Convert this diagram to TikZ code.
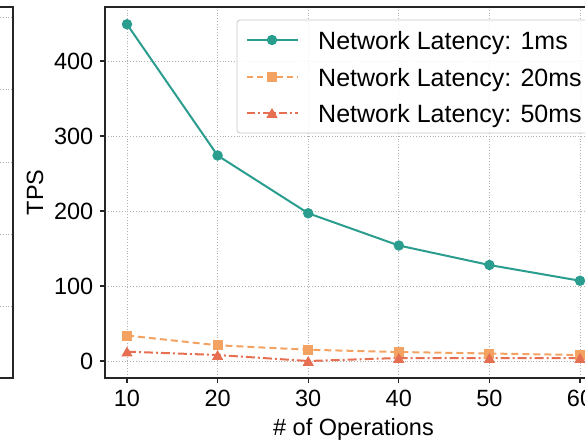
\documentclass[tikz,border=0pt]{standalone}
\usepackage{fontspec}
\setmainfont{Liberation Sans}
\usetikzlibrary{shapes.geometric}
\definecolor{cA}{HTML}{2A9D8F}
\definecolor{cB}{HTML}{F4A261}
\definecolor{cC}{HTML}{E76F51}
\definecolor{gridc}{HTML}{B0B0B0}
\definecolor{spine}{HTML}{262626}
\begin{document}
\begin{tikzpicture}[x=1pt,y=-1pt,
  gridline/.style={gridc,line width=0.8pt,dotted},
  spineline/.style={spine,line width=1.3pt},
  lab/.style={font=\fontsize{23.5}{28}\selectfont,inner sep=0pt},
  leglab/.style={font=\fontsize{25}{30}\selectfont,inner sep=0pt},
  serA/.style={cA,line width=2pt},
  serB/.style={cB,line width=2pt,dash pattern=on 7pt off 4pt},
  serC/.style={cC,line width=2pt,dash pattern=on 9pt off 3pt on 2pt off 3pt},
  mkA/.style={circle,fill=cA,minimum size=10.5pt,inner sep=0pt},
  mkB/.style={rectangle,fill=cB,minimum size=10pt,inner sep=0pt},
  mkC/.style={regular polygon,regular polygon sides=3,fill=cC,minimum size=13pt,inner sep=0pt}]
\useasboundingbox (0,0) rectangle (585,442);
\clip (0,0) rectangle (585,442);
% left partial plot
\foreach \yy in {17,89,162,234,306} \draw[gridline] (0,\yy) -- (13,\yy);
\draw[spineline] (0,7) -- (13,7) -- (13,378) -- (0,378);
% grid
\foreach \xx in {127,217.6,308.2,398.8,489.4,580} \draw[gridline] (\xx,7) -- (\xx,378);
\foreach \v in {0,100,200,300,400} \draw[gridline] (105,{361-0.75*\v}) -- (600,{361-0.75*\v});
% ticks and labels
\foreach \v in {0,100,200,300,400} {
  \draw[spineline] (100,{361-0.75*\v}) -- (105,{361-0.75*\v});
  \node[lab,anchor=base east] (yl\v) at (93.5,{369.4-0.75*\v}) {\v};
}
\foreach \i/\v in {0/10,1/20,2/30,3/40,4/50,5/60} {
  \draw[spineline] ({127+90.6*\i},378) -- ({127+90.6*\i},383);
  \node[lab,anchor=base] (xl\v) at ({127+90.6*\i},406.5) {\v};
}
\node[lab,rotate=90,anchor=base] (ylab) at (43,192.5) {TPS};
\node[lab,anchor=base] (xlab) at (353.5,435) {\# of Operations};
% series data
\foreach \i/\v [count=\k] in {0/449,1/274,2/197,3/154,4/128,5/107} \coordinate (a\k) at ({127+90.6*\i},{361-0.75*\v});
\foreach \i/\v [count=\k] in {0/34,1/21,2/15,3/12,4/10,5/8} \coordinate (b\k) at ({127+90.6*\i},{361-0.75*\v});
\foreach \i/\v [count=\k] in {0/12.5,1/8,2/0,3/4,4/4,5/4} \coordinate (c\k) at ({127+90.6*\i},{361-0.75*\v});
\draw[serB] (b1) -- (b2) -- (b3) -- (b4) -- (b5) -- (b6);
\draw[serC] (c1) -- (c2) -- (c3) -- (c4) -- (c5) -- (c6);
\draw[serA] (a1) -- (a2) -- (a3) -- (a4) -- (a5) -- (a6);
\foreach \k in {1,...,6} {
  \node[mkB] (mb\k) at (b\k) {};
  \node[mkC,yshift=-1.5pt] (mc\k) at (c\k) {};
  \node[mkA] (ma\k) at (a\k) {};
}
% spines
\draw[spineline] (600,7) -- (105,7) -- (105,378) -- (600,378);
% legend
\draw[gridc!70,line width=0.8pt,fill=white,fill opacity=0.85,rounded corners=3pt] (237,20) rectangle (620,133);
\coordinate (l1a) at (247,40); \coordinate (l1b) at (298,40);
\coordinate (l2a) at (247,76.5); \coordinate (l2b) at (298,76.5);
\coordinate (l3a) at (247,113); \coordinate (l3b) at (298,113);
\draw[serA] (l1a) -- (l1b); \node[mkA] (lm1) at (272,40) {};
\draw[serB,dash pattern=on 6pt off 4pt] (l2a) -- (l2b); \node[mkB] (lm2) at (272,76.5) {};
\draw[serC,dash pattern=on 8pt off 3pt on 2pt off 3pt] (l3a) -- (l3b); \node[mkC,yshift=-1.5pt] (lm3) at (272,113) {};
\node[leglab,anchor=base west] (lt1) at (318,49.5) {Network Latency: 1ms};
\node[leglab,anchor=base west] (lt2) at (318,86) {Network Latency: 20ms};
\node[leglab,anchor=base west] (lt3) at (318,122.5) {Network Latency: 50ms};
\end{tikzpicture}
\end{document}
